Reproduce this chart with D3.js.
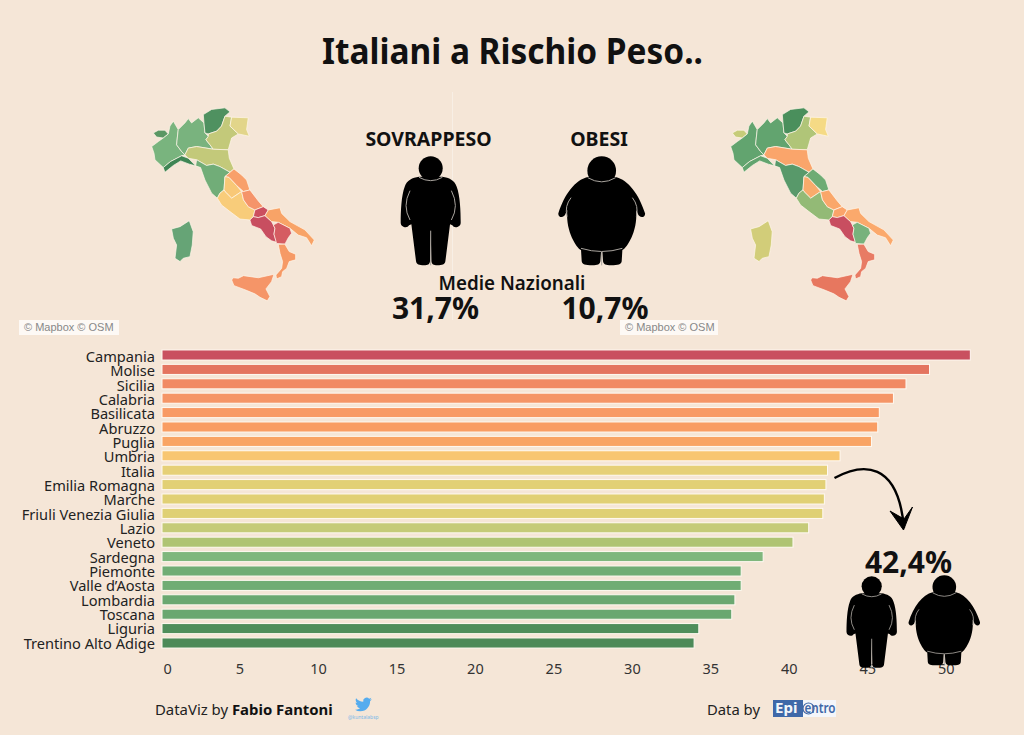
<!DOCTYPE html>
<html lang="it">
<head>
<meta charset="utf-8">
<title>Italiani a Rischio Peso..</title>
<script src="https://d3js.org/d3.v7.min.js"></script>
<style>
  html, body { margin: 0; padding: 0; background: #f5e6d7; overflow: hidden; }
  svg { display: block; }
  text { font-family: "Noto Sans", sans-serif; fill: #111; }
</style>
</head>
<body>
<svg id="chart" width="1024" height="735"></svg>
<script>
// bar chart data
var categories = ["Campania","Molise","Sicilia","Calabria","Basilicata","Abruzzo","Puglia","Umbria","Italia","Emilia Romagna","Marche","Friuli Venezia Giulia","Lazio","Veneto","Sardegna","Piemonte","Valle d'Aosta","Lombardia","Toscana","Liguria","Trentino Alto Adige"];
var values = [51.5,48.9,47.4,46.6,45.7,45.6,45.2,43.2,42.4,42.3,42.2,42.1,41.2,40.2,38.3,36.9,36.9,36.5,36.3,34.2,33.9];
var barColors = ["#c9505f","#e4745f","#f18a64","#f59566","#f89a64","#f99d63","#f9a464","#f8c671","#e6d077","#e2d075","#e1d074","#dfd074","#c5cb78","#afc473","#7fb77d","#70ad74","#70ad74","#6ba871","#6aa770","#4f8e5b","#4c8a58"];
var xTicks = [0,5,10,15,20,25,30,35,40,45,50];

// region outlines, lon/lat
var regionNames = ["Valle d'Aosta","Piemonte","Lombardia","Trentino Alto Adige","Veneto","Friuli Venezia Giulia","Liguria","Emilia Romagna","Toscana","Marche","Umbria","Lazio","Abruzzo","Molise","Campania","Puglia","Basilicata","Calabria","Sicilia","Sardegna"];
var regionRings = [
  [[6.73,45.82],[7.10,45.96],[7.58,45.96],[7.83,45.77],[7.46,45.56],[6.97,45.61]],
  [[8.20,46.42],[8.56,45.99],[8.49,45.56],[8.44,45.21],[8.81,44.86],[9.05,44.69],[8.81,44.64],[8.00,44.34],[7.46,44.02],[6.85,44.43],[6.78,44.77],[6.61,45.12],[7.10,45.38],[7.46,45.56],[7.83,45.77],[7.95,46.17]],
  [[8.56,45.99],[9.05,46.33],[9.30,46.55],[9.54,46.33],[10.03,46.59],[10.45,46.33],[10.52,45.82],[10.77,45.65],[10.59,45.47],[10.89,45.21],[11.13,44.98],[9.91,45.12],[9.30,45.04],[9.05,44.69],[8.81,44.86],[8.44,45.21],[8.49,45.56]],
  [[10.40,46.75],[11.01,47.01],[11.99,47.09],[12.36,46.89],[11.99,46.67],[11.74,46.17],[11.38,45.91],[10.77,45.77],[10.52,45.82],[10.45,46.33]],
  [[11.99,46.67],[12.48,46.62],[12.36,46.17],[12.97,45.77],[12.48,45.56],[12.23,44.95],[11.13,44.98],[10.89,45.21],[10.59,45.47],[10.77,45.65],[10.77,45.77],[11.38,45.91],[11.74,46.17]],
  [[12.48,46.62],[13.70,46.59],[13.58,45.99],[13.78,45.65],[12.97,45.77],[12.36,46.17]],
  [[7.46,44.02],[8.00,44.34],[8.81,44.64],[9.30,44.51],[9.84,44.11],[9.37,44.20],[8.74,44.37],[8.20,44.13],[7.58,43.77]],
  [[9.30,45.04],[9.91,45.12],[11.13,44.98],[12.23,44.95],[12.31,44.51],[12.65,43.95],[12.36,43.77],[11.62,44.07],[11.13,44.20],[10.64,44.13],[9.91,44.43],[9.30,44.51],[9.05,44.69]],
  [[9.91,44.43],[10.64,44.13],[11.13,44.20],[11.62,44.07],[12.36,43.77],[11.99,43.54],[11.92,42.83],[11.62,42.65],[11.43,42.38],[11.01,42.65],[10.89,42.83],[10.52,43.36],[10.20,44.02],[9.84,44.11]],
  [[12.36,43.77],[12.65,43.95],[13.21,43.63],[13.58,43.36],[13.82,42.83],[13.35,42.74],[12.85,43.06],[12.28,43.50],[11.99,43.54]],
  [[11.99,43.54],[12.28,43.50],[12.85,43.06],[13.21,42.74],[12.48,42.38],[11.99,42.74],[11.92,42.83]],
  [[11.43,42.38],[11.62,42.65],[11.92,42.83],[11.99,42.74],[12.48,42.38],[13.21,42.74],[13.35,42.29],[13.70,41.92],[14.19,41.74],[14.07,41.37],[13.82,41.19],[13.09,41.24],[12.36,41.65],[11.74,42.01]],
  [[13.35,42.74],[13.82,42.83],[14.44,42.23],[14.80,41.92],[14.19,41.74],[13.70,41.92],[13.35,42.29],[13.21,42.74]],
  [[14.19,41.74],[14.80,41.92],[15.17,41.74],[14.93,41.43],[14.44,41.32],[14.07,41.37]],
  [[13.82,41.19],[14.07,41.37],[14.44,41.32],[14.93,41.43],[15.41,41.10],[15.54,40.91],[15.66,40.73],[15.59,40.40],[15.78,39.94],[15.41,40.03],[15.00,40.26],[14.61,40.69],[13.95,40.88]],
  [[15.17,41.74],[16.03,41.86],[16.15,41.55],[16.76,41.10],[17.86,40.64],[18.55,40.07],[18.35,39.75],[17.98,40.20],[17.37,40.35],[16.76,40.73],[15.90,41.06],[15.41,41.10],[14.93,41.43]],
  [[15.54,40.91],[15.90,41.06],[16.76,40.73],[16.88,40.45],[16.64,40.20],[16.39,39.84],[15.78,39.88],[15.59,40.40],[15.66,40.73]],
  [[15.90,39.83],[16.39,39.84],[16.71,39.42],[17.18,39.27],[17.18,38.95],[16.71,38.85],[16.52,38.46],[16.22,38.27],[16.15,37.98],[15.78,37.85],[15.73,38.08],[16.15,38.46],[16.22,38.85],[16.03,39.32]],
  [[12.48,37.79],[12.60,37.92],[12.97,37.89],[13.35,38.04],[14.44,37.92],[15.59,38.12],[15.41,37.69],[15.00,37.27],[15.29,36.82],[15.10,36.57],[14.56,36.78],[14.19,36.98],[13.46,37.22],[12.65,37.46]],
  [[8.07,40.69],[8.69,40.82],[9.37,41.15],[9.66,40.54],[9.59,39.79],[9.42,39.13],[8.93,39.04],[8.69,38.85],[8.32,39.04],[8.44,39.79],[8.20,40.17]]
];
var sovrappesoFills = ["#5a9763","#79b47e","#79b37e","#4f9160","#c3c97a","#e2d58a","#3f8554","#c3c97a","#71ad78","#f8a06a","#f8c877","#f8cc7a","#f5946a","#cc4f5f","#c84e60","#f8a367","#d55c62","#f69a66","#f59568","#66a476"];
var obesiFills = ["#c6cc79","#62a46f","#62a46f","#4a8f5c","#b0c578","#f5da85","#62a46f","#faa56b","#58996a","#6eac74","#f9ab6b","#93ba76","#faa76a","#fba46a","#c84e60","#fba96c","#78b27c","#e87b64","#e7775f","#d2cd79"];

var svg = d3.select("#chart");

// people icons, drawn once and reused
var defs = svg.append("defs");
function person(id, body, arcs, headR) {
  var g = defs.append("g").attr("id", id);
  g.append("circle").attr("cx", 0).attr("cy", headR + 1).attr("r", headR).attr("fill", "#000");
  g.append("path").attr("d", body).attr("fill", "#000");
  g.append("path").attr("d", arcs).attr("fill", "none").attr("stroke", "#a9a49e").attr("stroke-width", 3);
}
person("sovrappeso",
  "M-35,62C-55,65-72,72-78,92C-88,118-90,165-90,200C-90,214-70,218-65,208L-58,205L-44,316C-42,326-35,328-20,328C-8,328-4,326-2,316L0,222L2,316C4,326,8,328,20,328C35,328,42,326,44,316L58,205L65,208C70,218,90,214,90,200C90,165,88,118,78,92C72,72,55,65,35,62Z",
  "M-35,64Q0,84,35,64M-62,104Q-86,150-62,192M62,104Q86,150,62,192M0,224V328", 36);
person("obesi",
  "M-42,63C-80,72-112,115-130,172C-132,186-112,188-108,172L-103,162C-110,230-70,282-62,282L-60,316C-58,326-50,328-28,328C-12,328-6,326-4,316L-2,288L2,288L4,316C6,326,12,328,28,328C50,328,58,326,60,316L62,282C70,282,110,230,103,162L108,172C112,188,132,186,130,172C112,115,80,72,42,63Z",
  "M-42,65Q0,90,42,65M-92,125Q-112,150-104,182M92,125Q112,150,104,182M-62,277Q0,296,62,277M0,288V328", 43);

function drawPerson(id, cx, top, k) {
  svg.append("use").attr("href", "#" + id)
    .attr("transform", "translate(" + cx + "," + top + ") scale(" + k + ")");
}

// faint divider left over in the dashboard
svg.append("line").attr("x1", 452.5).attr("x2", 452.5).attr("y1", 92).attr("y2", 320)
  .attr("stroke", "#fff").attr("stroke-opacity", 0.35);

// title
svg.append("text").attr("x", 322).attr("y", 63.5)
  .attr("textLength", 381).attr("lengthAdjust", "spacingAndGlyphs")
  .style("font-size", "36px").style("font-weight", "700").text("Italiani a Rischio Peso..");

// maps
var features = regionNames.map(function(name, i) {
  var ring = regionRings[i].concat([regionRings[i][0]]);
  var f = { type: "Feature", properties: { name: name }, geometry: { type: "Polygon", coordinates: [ring] } };
  if (d3.geoArea(f) > 2 * Math.PI) ring.reverse();
  return f;
});

function drawMap(cx, fills) {
  var projection = d3.geoMercator().center([12, 42]).scale(780.4).translate([cx, 205.2]);
  var path = d3.geoPath(projection);
  svg.append("g").selectAll("path").data(features).join("path")
    .attr("d", path)
    .attr("fill", function(d, i) { return fills[i]; })
    .attr("stroke", "#fff6ea")
    .attr("stroke-width", 0.7)
    .attr("stroke-linejoin", "round");
}
drawMap(225.1, sovrappesoFills);
drawMap(804.1, obesiFills);

// map attributions
[[19, 100], [620, 98]].forEach(function(a) {
  svg.append("rect").attr("x", a[0]).attr("y", 320).attr("width", a[1]).attr("height", 15)
    .attr("fill", "#fff").attr("fill-opacity", 0.75);
  svg.append("text").attr("x", a[0] + 5).attr("y", 331)
    .style("font-family", "'Liberation Sans', sans-serif").style("font-size", "11px").style("fill", "#888")
    .text("© Mapbox © OSM");
});

// centre block
svg.append("text").attr("x", 428.5).attr("y", 146).attr("text-anchor", "middle")
  .style("font-size", "19.5px").style("font-weight", "700").text("SOVRAPPESO");
svg.append("text").attr("x", 599).attr("y", 146).attr("text-anchor", "middle")
  .style("font-size", "19.5px").style("font-weight", "700").text("OBESI");
drawPerson("sovrappeso", 430.7, 156, 1 / 3);
drawPerson("obesi", 601.7, 156, 1 / 3);
svg.append("text").attr("x", 512).attr("y", 290).attr("text-anchor", "middle")
  .style("font-size", "18.8px").style("font-weight", "600").text("Medie Nazionali");
svg.append("text").attr("x", 435.5).attr("y", 319).attr("text-anchor", "middle")
  .style("font-size", "30px").style("font-weight", "700").text("31,7%");
svg.append("text").attr("x", 605).attr("y", 319).attr("text-anchor", "middle")
  .style("font-size", "30px").style("font-weight", "700").text("10,7%");

// bars
var x = d3.scaleLinear().domain([0, 50]).range([162, 946.8]);
var y = d3.scaleBand().domain(categories).range([347.8, 650.2]).paddingInner(0.3).paddingOuter(0.15);
var yLabel = d3.scalePoint().domain(categories).range([362, 648.5]);

svg.append("g").selectAll("rect").data(categories).join("rect")
  .attr("x", x(0))
  .attr("y", function(d) { return y(d); })
  .attr("width", function(d, i) { return x(values[i]) - x(0); })
  .attr("height", y.bandwidth())
  .attr("fill", function(d, i) { return barColors[i]; })
  .attr("stroke", "#fffaf2")
  .attr("stroke-width", 1);

svg.append("g").selectAll("text").data(categories).join("text")
  .attr("x", 155)
  .attr("y", function(d) { return yLabel(d); })
  .attr("text-anchor", "end")
  .style("font-size", "14.6px")
  .style("fill", "#222")
  .text(function(d) { return d.replace("'", "’"); });

// x axis, labels only
var axis = d3.axisBottom(x).tickValues(xTicks).tickSize(0).tickPadding(0);
var axisG = svg.append("g").attr("transform", "translate(-1,664)").call(axis);
axisG.select(".domain").remove();
axisG.selectAll("text").style("font-size", "14.5px").style("font-family", "'Noto Sans', sans-serif").style("fill", "#333");
axisG.selectAll(".tick").filter(function(d) { return d === 0; }).select("text")
  .attr("text-anchor", "start").attr("x", 2);

// annotation
var arrow = d3.path();
arrow.moveTo(834.5, 478);
arrow.bezierCurveTo(862, 463, 898, 460, 904, 528);
svg.append("path").attr("d", arrow.toString()).attr("fill", "none").attr("stroke", "#000").attr("stroke-width", 2.4);
svg.append("path").attr("d", "M890,511L903.5,530L912.5,507L904,519Z").attr("fill", "#000").attr("stroke", "#000");
svg.append("text").attr("x", 908.5).attr("y", 573).attr("text-anchor", "middle")
  .style("font-size", "30px").style("font-weight", "700").text("42,4%");
drawPerson("sovrappeso", 871.7, 576, 0.28);
drawPerson("obesi", 944.3, 575, 0.275);

// footer
var credit = svg.append("text").attr("x", 155).attr("y", 715).style("font-size", "14.9px").style("fill", "#222");
credit.append("tspan").text("DataViz by ");
credit.append("tspan").style("font-weight", "700").style("fill", "#111").text("Fabio Fantoni");
svg.append("path")
  .attr("d", "M23.95 4.57a10 10 0 01-2.82.77 4.96 4.96 0 002.16-2.72c-.95.55-2 .95-3.12 1.17a4.92 4.92 0 00-8.38 4.48C7.69 8.09 4.07 6.13 1.64 3.16a4.82 4.82 0 00-.67 2.48c0 1.71.87 3.21 2.19 4.1a4.9 4.9 0 01-2.23-.61v.06a4.92 4.92 0 003.95 4.83 5 5 0 01-2.21.08 4.94 4.94 0 004.6 3.42A9.87 9.87 0 010 19.54a14 14 0 007.56 2.21c9.05 0 14-7.5 14-13.98 0-.21 0-.42-.02-.63a9.94 9.94 0 002.46-2.55z")
  .attr("transform", "translate(355,696) scale(0.7)").attr("fill", "#55acee");
svg.append("text").attr("x", 348).attr("y", 719).style("font-size", "5px").style("fill", "#7db9e8").text("@kuntalabsp");
svg.append("text").attr("x", 707).attr("y", 715).style("font-size", "14.8px").style("fill", "#222").text("Data by");

// epicentro logo
svg.append("rect").attr("x", 773).attr("y", 700).attr("width", 63).attr("height", 17).attr("fill", "#f4f6fa");
svg.append("rect").attr("x", 773).attr("y", 700).attr("width", 30).attr("height", 17).attr("fill", "#3f68a8");
svg.append("text").attr("x", 775).attr("y", 713).style("font-size", "15px").style("font-weight", "700").style("fill", "#f4f6fa").text("Epi");
svg.append("circle").attr("cx", 808.5).attr("cy", 708.5).attr("r", 5.5).attr("fill", "none").attr("stroke", "#3f68a8").attr("stroke-width", 1.2);
svg.append("text").attr("x", 804.5).attr("y", 713).attr("textLength", 31).attr("lengthAdjust", "spacingAndGlyphs")
  .style("font-size", "13.5px").style("font-weight", "600").style("fill", "#3f68a8").text("entro");
</script>
</body>
</html>
